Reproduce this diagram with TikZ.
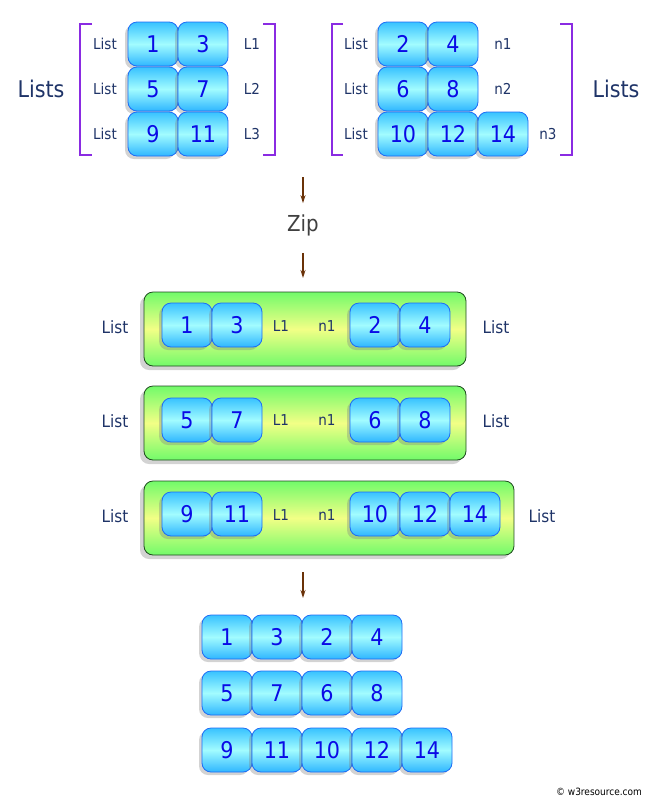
\documentclass[tikz,border=0pt]{standalone}
\usepackage{fontspec}
\setmainfont{DejaVu Sans Condensed}
\usetikzlibrary{shadows, arrows.meta}

\definecolor{boxtop}{HTML}{38C2FF}
\definecolor{boxmid}{HTML}{A2FCFF}
\definecolor{boxbot}{HTML}{2EB6FF}
\definecolor{boxedge}{HTML}{1E6CF5}
\definecolor{numblue}{HTML}{0A0AE6}
\definecolor{navy}{HTML}{1F3468}
\definecolor{brk}{HTML}{8A2BE2}
\definecolor{bargreen}{HTML}{72FA6A}
\definecolor{baryellow}{HTML}{F2FF86}
\definecolor{baredge}{HTML}{1E4A1E}
\definecolor{flowbrown}{HTML}{6A3208}

\tikzset{
  numbox/.style={draw=boxedge, line width=0.8pt, rounded corners=9pt,
    minimum width=50pt, minimum height=44pt, inner sep=0pt,
    top color=boxtop, bottom color=boxbot, middle color=boxmid,
    text=numblue, font=\fontsize{23}{23}\selectfont,
    drop shadow={shadow xshift=-3pt, shadow yshift=-3pt, opacity=0.35}},
  barbox/.style={draw=baredge, line width=0.8pt, rounded corners=9pt,
    minimum height=74pt, inner sep=0pt,
    top color=bargreen, bottom color=bargreen, middle color=baryellow,
    drop shadow={shadow xshift=-4pt, shadow yshift=-4pt, opacity=0.35}},
  lbl/.style={text=navy, font=\fontsize{15}{15}\selectfont},
  barlbl/.style={text=navy, font=\fontsize{17}{17}\selectfont},
  biglbl/.style={text=navy, font=\fontsize{23}{23}\selectfont},
  bracket/.style={draw=brk, line width=2pt},
  flow/.style={draw=flowbrown, line width=1.3pt, -{Stealth[length=8pt, width=5pt]}}
}

\begin{document}
\begin{tikzpicture}[x=1pt, y=-1pt]

\useasboundingbox ( 0, 0 ) rectangle ( 657, 804 );

% Left group of lists
\draw [bracket] ( 92, 24 ) -- ( 80, 24 ) -- ( 80, 155 ) -- ( 92, 155 );
\draw [bracket] ( 263, 24 ) -- ( 275, 24 ) -- ( 275, 155 ) -- ( 263, 155 );
\node (listsL) at ( 41, 89 ) [biglbl] {Lists};

\node (lA1) at ( 105, 44 ) [lbl] {List};
\node (lA2) at ( 105, 89 ) [lbl] {List};
\node (lA3) at ( 105, 134 ) [lbl] {List};

\node (a1) at ( 153, 44 ) [numbox] {1};
\node (a3) at ( 203, 44 ) [numbox] {3};
\node (a5) at ( 153, 89 ) [numbox] {5};
\node (a7) at ( 203, 89 ) [numbox] {7};
\node (a9) at ( 153, 134 ) [numbox] {9};
\node (a11) at ( 203, 134 ) [numbox] {11};

\node (L1) at ( 252, 44 ) [lbl] {L1};
\node (L2) at ( 252, 89 ) [lbl] {L2};
\node (L3) at ( 252, 134 ) [lbl] {L3};

% Right group of lists
\draw [bracket] ( 343, 24 ) -- ( 332, 24 ) -- ( 332, 155 ) -- ( 343, 155 );
\draw [bracket] ( 560, 24 ) -- ( 572, 24 ) -- ( 572, 155 ) -- ( 560, 155 );
\node (listsR) at ( 616, 89 ) [biglbl] {Lists};

\node (lB1) at ( 356, 44 ) [lbl] {List};
\node (lB2) at ( 356, 89 ) [lbl] {List};
\node (lB3) at ( 356, 134 ) [lbl] {List};

\node (b2) at ( 403, 44 ) [numbox] {2};
\node (b4) at ( 453, 44 ) [numbox] {4};
\node (b6) at ( 403, 89 ) [numbox] {6};
\node (b8) at ( 453, 89 ) [numbox] {8};
\node (b10) at ( 403, 134 ) [numbox] {10};
\node (b12) at ( 453, 134 ) [numbox] {12};
\node (b14) at ( 503, 134 ) [numbox] {14};

\node (n1) at ( 503, 44 ) [lbl] {n1};
\node (n2) at ( 503, 89 ) [lbl] {n2};
\node (n3) at ( 548, 134 ) [lbl] {n3};

% Zip step
\node (zip) at ( 303, 225 ) [inner sep=0pt, text=black!75, font=\fontsize{22}{22}\selectfont] {Zip};
\coordinate (zipin) at ( 303, 177 );
\coordinate (zipout) at ( 303, 278 );
\draw [flow, shorten >=11pt] (zipin) -- (zip.north);
\draw [flow, shorten <=17pt] (zip.south) -- (zipout);

% Zipped pairs
\node (bar1) at ( 305, 329 ) [barbox, minimum width=322pt] {};
\node (bar2) at ( 305, 423 ) [barbox, minimum width=322pt] {};
\node (bar3) at ( 329, 518 ) [barbox, minimum width=370pt] {};

\node (pL1) at ( 115, 327 ) [barlbl] {List};
\node (pL2) at ( 115, 421 ) [barlbl] {List};
\node (pL3) at ( 115, 516 ) [barlbl] {List};
\node (pR1) at ( 496, 327 ) [barlbl] {List};
\node (pR2) at ( 496, 421 ) [barlbl] {List};
\node (pR3) at ( 542, 516 ) [barlbl] {List};

\node (p1) at ( 187, 325 ) [numbox] {1};
\node (p3) at ( 237, 325 ) [numbox] {3};
\node (pl1) at ( 281, 326 ) [lbl] {L1};
\node (pn1) at ( 327, 326 ) [lbl] {n1};
\node (p2) at ( 375, 325 ) [numbox] {2};
\node (p4) at ( 425, 325 ) [numbox] {4};

\node (p5) at ( 187, 420 ) [numbox] {5};
\node (p7) at ( 237, 420 ) [numbox] {7};
\node (pl2) at ( 281, 420 ) [lbl] {L1};
\node (pn2) at ( 327, 420 ) [lbl] {n1};
\node (p6) at ( 375, 420 ) [numbox] {6};
\node (p8) at ( 425, 420 ) [numbox] {8};

\node (p9) at ( 187, 514 ) [numbox] {9};
\node (p11) at ( 237, 514 ) [numbox] {11};
\node (pl3) at ( 281, 515 ) [lbl] {L1};
\node (pn3) at ( 327, 515 ) [lbl] {n1};
\node (p10) at ( 375, 514 ) [numbox] {10};
\node (p12) at ( 425, 514 ) [numbox] {12};
\node (p14) at ( 475, 514 ) [numbox] {14};

% Flattened result
\coordinate (flatin) at ( 303, 572 );
\coordinate (flatout) at ( 303, 598 );
\draw [flow] (flatin) -- (flatout);

\node (r1) at ( 227, 637 ) [numbox] {1};
\node (r3) at ( 277, 637 ) [numbox] {3};
\node (r2) at ( 327, 637 ) [numbox] {2};
\node (r4) at ( 377, 637 ) [numbox] {4};

\node (r5) at ( 227, 693 ) [numbox] {5};
\node (r7) at ( 277, 693 ) [numbox] {7};
\node (r6) at ( 327, 693 ) [numbox] {6};
\node (r8) at ( 377, 693 ) [numbox] {8};

\node (r9) at ( 227, 750 ) [numbox] {9};
\node (r11) at ( 277, 750 ) [numbox] {11};
\node (r10) at ( 327, 750 ) [numbox] {10};
\node (r12) at ( 377, 750 ) [numbox] {12};
\node (r14) at ( 427, 750 ) [numbox] {14};

\node (credit) at ( 599, 792 ) [font=\fontsize{10}{10}\selectfont] {© w3resource.com};

\end{tikzpicture}
\end{document}
